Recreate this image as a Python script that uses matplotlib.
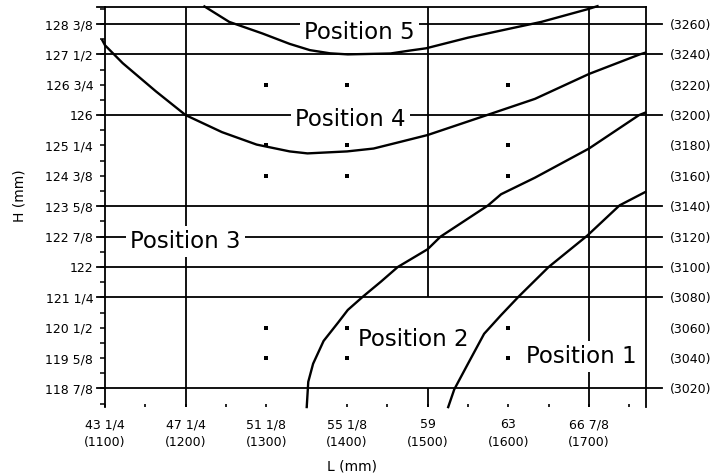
import matplotlib
matplotlib.use("Agg")
import matplotlib.pyplot as plt
from matplotlib.ticker import FixedLocator, MultipleLocator, NullFormatter

# ---------------- data ----------------
x_ticks_mm = [1100, 1200, 1300, 1400, 1500, 1600, 1700]
x_ticks_in = ["43 1/4", "47 1/4", "51 1/8", "55 1/8", "59", "63", "66 7/8"]

y_ticks_mm = [3020, 3040, 3060, 3080, 3100, 3120, 3140, 3160, 3180, 3200, 3220, 3240, 3260]
y_ticks_in = ["118 7/8", "119 5/8", "120 1/2", "121 1/4", "122", "122 7/8", "123 5/8",
              "124 3/8", "125 1/4", "126", "126 3/4", "127 1/2", "128 3/8"]

h_grid = [3020, 3080, 3100, 3120, 3140, 3200, 3240, 3260]
v_grid_full = [1200, 1700]
v_grid_partial = 1500

dot_x = [1300, 1400, 1600]
dot_y = [3040, 3060, 3160, 3180, 3220]

pos5_x = [1222, 1254, 1295, 1329, 1354, 1379, 1401, 1454, 1479, 1498, 1550, 1604, 1641, 1698, 1712]
pos5_y = [3272, 3261.4, 3253.8, 3246.9, 3242.8, 3240.7, 3240, 3240.6, 3242.6, 3244, 3251, 3257.2, 3261.4, 3269.7, 3272]

pos4_x = [1096, 1100, 1122, 1163, 1200, 1245, 1288, 1329, 1351, 1400, 1433, 1467, 1500, 1570, 1633, 1700, 1763, 1771]
pos4_y = [3250, 3246, 3234.2, 3215.7, 3200, 3188.8, 3180.6, 3176.1, 3174.8, 3176.1, 3178, 3182.5, 3186.9, 3199.4, 3210.7, 3227.1, 3240, 3241.3]

pos2_x = [1350, 1352, 1358, 1371, 1389, 1401, 1420, 1442, 1463, 1500, 1516, 1575, 1591, 1633, 1700, 1762, 1771]
pos2_y = [3007, 3024.4, 3036.3, 3051.3, 3063.4, 3071.7, 3080.6, 3090.3, 3100, 3111.7, 3120, 3140.6, 3147.9, 3158.8, 3178, 3200, 3201.9]

pos1_x = [1525, 1533, 1550, 1570, 1591, 1613, 1650, 1698, 1738, 1771]
pos1_y = [3007, 3019.4, 3036.3, 3056, 3068.3, 3080.6, 3100, 3120.7, 3140.6, 3149.7]

labels = ["Position 5", "Position 4", "Position 3", "Position 2", "Position 1"]
label_x = [1415, 1404, 1200, 1482, 1690]
label_y = [3250.3, 3193.1, 3112.4, 3048, 3036.9]

# ---------------- figure ----------------
XMIN, XMAX = 1100, 1770.7
YMIN, YMAX = 3007.8, 3271.2
LW = 1.3

fig = plt.figure(figsize=(7.16, 4.75), dpi=100)
ax = fig.add_axes([105 / 716, 68 / 475, 541 / 716, 400 / 475])
ax.set_xlim(XMIN, XMAX)
ax.set_ylim(YMIN, YMAX)

for side in ["left", "right", "top"]:
    ax.spines[side].set_linewidth(LW)
ax.spines["bottom"].set_visible(False)

# horizontal grid lines (extend outside the frame on both sides)
ytr = ax.get_yaxis_transform()
for yv in h_grid:
    ax.plot([-0.015, 1.03], [yv, yv], transform=ytr, color="k", lw=LW, clip_on=False, zorder=2)
ax.plot([-0.015, 0], [1, 1], transform=ax.transAxes, color="k", lw=LW, clip_on=False)

# vertical grid lines
for xv in v_grid_full:
    ax.axvline(xv, color="k", lw=LW, zorder=2)
ax.vlines([v_grid_partial, v_grid_partial], [YMIN, 3080], [3020, YMAX], color="k", lw=LW, zorder=2)

# intersection dots
dx = [x for x in dot_x for _ in dot_y]
dy = [y for _ in dot_x for y in dot_y]
ax.plot(dx, dy, ls="none", marker="s", ms=2.4, color="k", mew=0, zorder=2)

# curves
for xs, ys in [(pos5_x, pos5_y), (pos4_x, pos4_y), (pos2_x, pos2_y), (pos1_x, pos1_y)]:
    ax.plot(xs, ys, color="k", lw=1.7, zorder=4, solid_capstyle="butt", clip_on=False)

# position labels (white boxes hide grid lines, but not the curves)
for t, xv, yv in zip(labels, label_x, label_y):
    ax.text(xv, yv, t, ha="center", va="baseline", fontsize=16.5, color="k", zorder=3,
            bbox=dict(facecolor="white", edgecolor="none", pad=3))

# x ticks
ax.xaxis.set_major_locator(FixedLocator(x_ticks_mm))
ax.set_xticklabels([f"{a}\n({b})" for a, b in zip(x_ticks_in, x_ticks_mm)])
ax.xaxis.set_minor_locator(MultipleLocator(50))
ax.tick_params(axis="x", which="both", direction="in", length=2.5, width=1.2, pad=8,
               labelsize=9, top=False)
for lab in ax.get_xticklabels():
    lab.set_linespacing(1.45)

# left y ticks
ax.yaxis.set_major_locator(FixedLocator(y_ticks_mm))
ax.set_yticklabels(y_ticks_in)
ax.yaxis.set_minor_locator(MultipleLocator(10))
ax.yaxis.set_minor_formatter(NullFormatter())
ax.tick_params(axis="y", which="both", direction="out", length=3.5, width=1.1, pad=5,
               labelsize=9, right=False)

# right y labels (mm)
ax2 = ax.twinx()
ax2.set_ylim(YMIN, YMAX)
ax2.yaxis.set_major_locator(FixedLocator(y_ticks_mm))
ax2.set_yticklabels([f"({v})" for v in y_ticks_mm])
ax2.tick_params(axis="y", length=0, pad=17, labelsize=9)
for s in ax2.spines.values():
    s.set_visible(False)

ax.set_xlabel("L (mm)", fontsize=10)
ax.xaxis.set_label_coords(0.457, -0.13)
ax.set_ylabel("H (mm)", fontsize=10)
ax.yaxis.set_label_coords(-0.146, 0.5275)

fig.savefig("out.png", dpi=100)
